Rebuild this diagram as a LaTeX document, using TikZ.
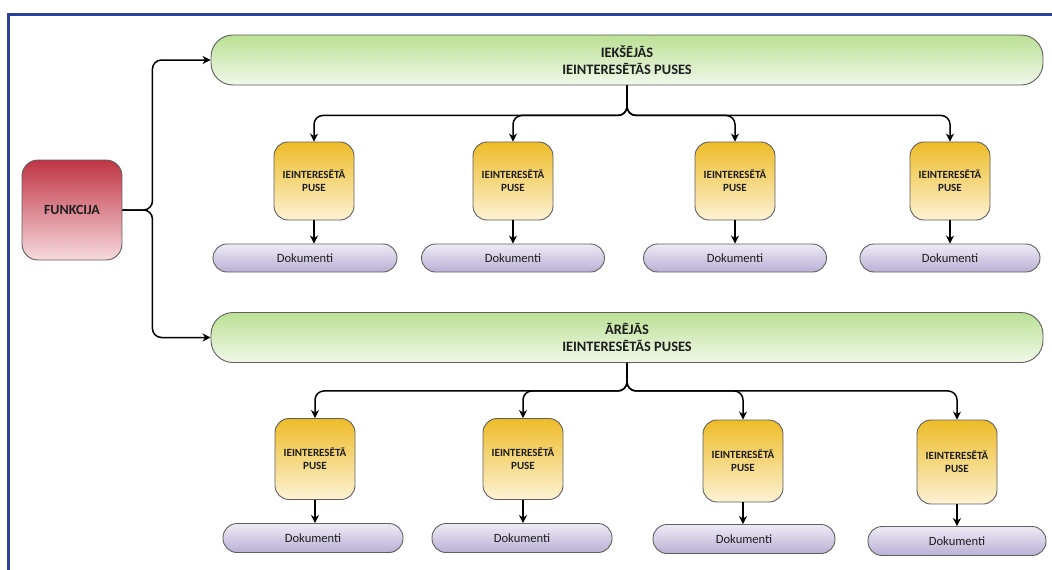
\documentclass[tikz,border=0pt]{standalone}
\usepackage{fontspec}
\setmainfont{Carlito}
\usetikzlibrary{arrows.meta}
\definecolor{frameblue}{RGB}{44,64,158}
\definecolor{boxline}{RGB}{95,95,95}
\definecolor{redtop}{RGB}{192,52,68}
\definecolor{redbot}{RGB}{246,218,222}
\definecolor{greentop}{RGB}{186,224,148}
\definecolor{greenbot}{RGB}{242,249,234}
\definecolor{yeltop}{RGB}{238,188,40}
\definecolor{yelbot}{RGB}{253,242,212}
\definecolor{lavtop}{RGB}{238,235,246}
\definecolor{lavbot}{RGB}{186,176,212}
\definecolor{txt}{RGB}{30,30,30}
\tikzset{
  basebox/.style={draw=boxline, line width=0.9pt, text=txt, align=center, inner sep=0pt},
  funcbox/.style={basebox, rounded corners=16pt, top color=redtop, bottom color=redbot,
     minimum width=100pt, minimum height=100pt, font=\bfseries\fontsize{14}{16}\selectfont},
  groupbox/.style={basebox, rounded corners=22pt, top color=greentop, bottom color=greenbot,
     minimum width=832pt, minimum height=50pt, font=\bfseries\fontsize{14.4}{16.5}\selectfont},
  partybox/.style={basebox, rounded corners=14pt, top color=yeltop, bottom color=yelbot,
     minimum width=80pt, font=\bfseries\fontsize{11}{13}\selectfont},
  docbox/.style={basebox, rounded corners=14pt, top color=lavtop, bottom color=lavbot,
     minimum height=28pt, font=\fontsize{12.6}{14}\selectfont},
  conn/.style={draw=black, line width=1.5pt, rounded corners=9pt,
     -{Stealth[length=8pt,width=8pt]}},
}
\begin{document}
\begin{tikzpicture}[x=1pt,y=-1pt]
\useasboundingbox (0,0) rectangle (1052,570);
\fill[white] (0,0) rectangle (1052,570);
% frame
\draw[frameblue, line width=3pt] (8.5,570) -- (8.5,14) -- (1052,14);

% nodes
\node[funcbox] (f) at (72,210) {FUNKCIJA};
\node[groupbox] (g1) at (627,60) {IEKŠĒJĀS\\IEINTERESĒTĀS PUSES};
\node[groupbox] (g2) at (627,337.5) {ĀRĒJĀS\\IEINTERESĒTĀS PUSES};

% row 1
\node[partybox, minimum height=78pt] (a1) at (314,181) {IEINTERESĒTĀ\\PUSE};
\node[partybox, minimum height=78pt] (a2) at (513,181) {IEINTERESĒTĀ\\PUSE};
\node[partybox, minimum height=78pt] (a3) at (735,181) {IEINTERESĒTĀ\\PUSE};
\node[partybox, minimum height=78pt] (a4) at (950,181) {IEINTERESĒTĀ\\PUSE};
\node[docbox, minimum width=184pt] (d1) at (305,258) {Dokumenti};
\node[docbox, minimum width=183pt] (d2) at (513,258) {Dokumenti};
\node[docbox, minimum width=183pt] (d3) at (735,258) {Dokumenti};
\node[docbox, minimum width=180pt] (d4) at (950,258) {Dokumenti};

% row 2
\node[partybox, minimum height=81pt] (b1) at (315,459) {IEINTERESĒTĀ\\PUSE};
\node[partybox, minimum height=81pt] (b2) at (523,459) {IEINTERESĒTĀ\\PUSE};
\node[partybox, minimum height=82pt] (b3) at (743,461) {IEINTERESĒTĀ\\PUSE};
\node[partybox, minimum height=84pt] (b4) at (957,462) {IEINTERESĒTĀ\\PUSE};
\node[docbox, minimum width=180pt, minimum height=29pt] (e1) at (313,538) {Dokumenti};
\node[docbox, minimum width=180pt, minimum height=29pt] (e2) at (522,538) {Dokumenti};
\node[docbox, minimum width=182pt, minimum height=29pt] (e3) at (744,539) {Dokumenti};
\node[docbox, minimum width=178pt, minimum height=29pt] (e4) at (957,541) {Dokumenti};

% connectors from FUNKCIJA
\draw[conn] (f.east) -- ++(30,0) |- (g1.west);
\draw[conn] (f.east) -- ++(30,0) |- (g2.west);

% group 1 to parties
\foreach \n in {a1,a2,a3,a4}{
  \draw[conn] (g1.south) -- ++(0,30) -| (\n.north);
}
% group 2 to parties
\foreach \n in {b1,b2,b3,b4}{
  \draw[conn] (g2.south) -- ++(0,28) -| (\n.north);
}
% parties to documents
\draw[conn, rounded corners=0pt] (a1.south) -- (a1.south |- d1.north);
\draw[conn, rounded corners=0pt] (a2.south) -- (a2.south |- d2.north);
\draw[conn, rounded corners=0pt] (a3.south) -- (a3.south |- d3.north);
\draw[conn, rounded corners=0pt] (a4.south) -- (a4.south |- d4.north);
\draw[conn, rounded corners=0pt] (b1.south) -- (b1.south |- e1.north);
\draw[conn, rounded corners=0pt] (b2.south) -- (b2.south |- e2.north);
\draw[conn, rounded corners=0pt] (b3.south) -- (b3.south |- e3.north);
\draw[conn, rounded corners=0pt] (b4.south) -- (b4.south |- e4.north);
\end{tikzpicture}
\end{document}
